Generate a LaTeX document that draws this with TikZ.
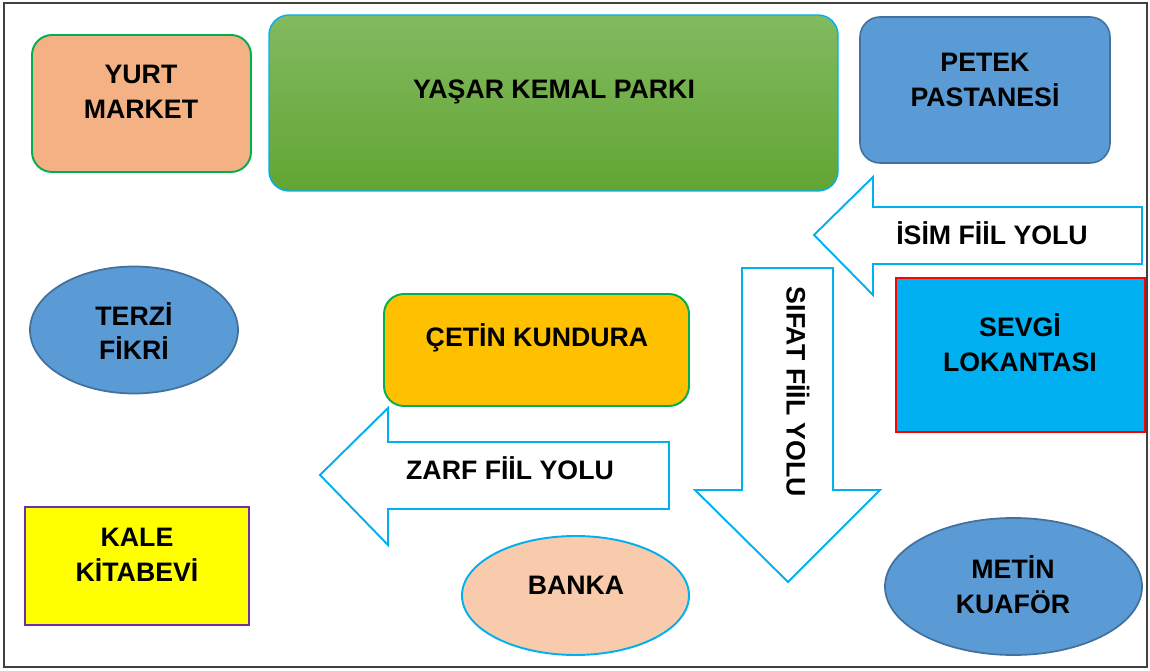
\documentclass[tikz,border=0pt]{standalone}
\usepackage{fontspec}
\setmainfont{Liberation Sans}
\usetikzlibrary{shapes.geometric}
\definecolor{framec}{HTML}{404040}
\definecolor{yurtf}{HTML}{F4B183}
\definecolor{greenb}{HTML}{00B050}
\definecolor{parktop}{HTML}{82BA60}
\definecolor{parkbot}{HTML}{62A533}
\definecolor{bluef}{HTML}{5B9BD5}
\definecolor{blueb}{HTML}{41719C}
\definecolor{cyanc}{HTML}{00B0F0}
\definecolor{cetinf}{HTML}{FFC000}
\definecolor{bankaf}{HTML}{F8CBAD}
\definecolor{purpleb}{HTML}{7030A0}
\definecolor{yellowf}{HTML}{FFFF00}
\tikzset{
  lbl/.style={font=\bfseries\fontsize{15.2}{19.8}\selectfont, align=center, text=black, inner sep=0pt},
  rbox/.style={draw, rounded corners=0.4cm, inner sep=0pt, line width=1.1pt},
  sbox/.style={draw, inner sep=0pt, line width=1.1pt},
  ell/.style={ellipse, draw, inner sep=0pt, line width=1pt},
  arrowshape/.style={draw=cyanc, fill=white, line width=1.1pt, line join=miter},
}
\begin{document}
\begin{tikzpicture}[x=0.02cm, y=-0.02cm]
\useasboundingbox (0,0) rectangle (1150,671);
\draw[framec, line width=1.1pt] (4,3) rectangle (1147,667);

% YURT MARKET
\node[rbox, draw=greenb, fill=yurtf, minimum width=219*0.02cm, minimum height=137*0.02cm] (yurt) at (141.5,103.5) {};
\node[lbl] (yurtt) at (141,92) {YURT\\MARKET};

% PARK
\node[rbox, draw=cyanc, line width=0.8pt, top color=parktop, bottom color=parkbot, minimum width=569*0.02cm, minimum height=176*0.02cm] (park) at (553.5,103) {};
\node[lbl] (parkt) at (554,92) {YAŞAR KEMAL PARKI};

% PETEK
\node[rbox, draw=blueb, fill=bluef, line width=0.9pt, minimum width=250*0.02cm, minimum height=146*0.02cm] (petek) at (985,90) {};
\node[lbl] (petekt) at (985,80) {PETEK\\PASTANESİ};

% ISIM FIIL YOLU arrow
\draw[arrowshape] (814,235) -- (873,177) -- (873,207) -- (1142,207) -- (1142,264) -- (873,264) -- (873,295) -- cycle;
\node[lbl] (isim) at (992,233) {İSİM FİİL YOLU};

% SEVGI
\node[sbox, draw=red, fill=cyanc, minimum width=249*0.02cm, minimum height=154*0.02cm] (sevgi) at (1020.5,355) {};
\node[lbl] (sevgit) at (1020,343) {SEVGİ\\LOKANTASI};

% SIFAT FIIL YOLU arrow
\draw[arrowshape] (742,268) -- (833,268) -- (833,490) -- (880,490) -- (788,582) -- (695,490) -- (742,490) -- cycle;
\node[lbl, rotate=-90] (sifat) at (798,392) {SIFAT FİİL YOLU};

% CETIN
\node[rbox, draw=greenb, fill=cetinf, minimum width=305*0.02cm, minimum height=112*0.02cm] (cetin) at (536.5,350) {};
\node[lbl] (cetint) at (537,338) {ÇETİN KUNDURA};

% ZARF FIIL YOLU arrow
\draw[arrowshape] (320,475) -- (388,408) -- (388,442) -- (669,442) -- (669,509) -- (388,509) -- (388,545) -- cycle;
\node[lbl] (zarf) at (510,468) {ZARF FİİL YOLU};

% TERZI
\node[ell, draw=blueb, fill=bluef, minimum width=208*0.02cm, minimum height=127*0.02cm] (terzi) at (134,330) {};
\node[lbl] (terzit) at (134,331) {TERZİ\\FİKRİ};

% BANKA
\node[ell, draw=cyanc, fill=bankaf, line width=1.1pt, minimum width=227*0.02cm, minimum height=119*0.02cm] (banka) at (575.5,595.5) {};
\node[lbl] (bankat) at (576,585) {BANKA};

% KALE
\node[sbox, draw=purpleb, fill=yellowf, minimum width=224*0.02cm, minimum height=118*0.02cm] (kale) at (137,566) {};
\node[lbl] (kalet) at (137,555) {KALE\\KİTABEVİ};

% METIN
\node[ell, draw=blueb, fill=bluef, minimum width=257*0.02cm, minimum height=137*0.02cm] (metin) at (1013.5,586.5) {};
\node[lbl] (metint) at (1013,585) {METİN\\KUAFÖR};
\end{tikzpicture}
\end{document}
